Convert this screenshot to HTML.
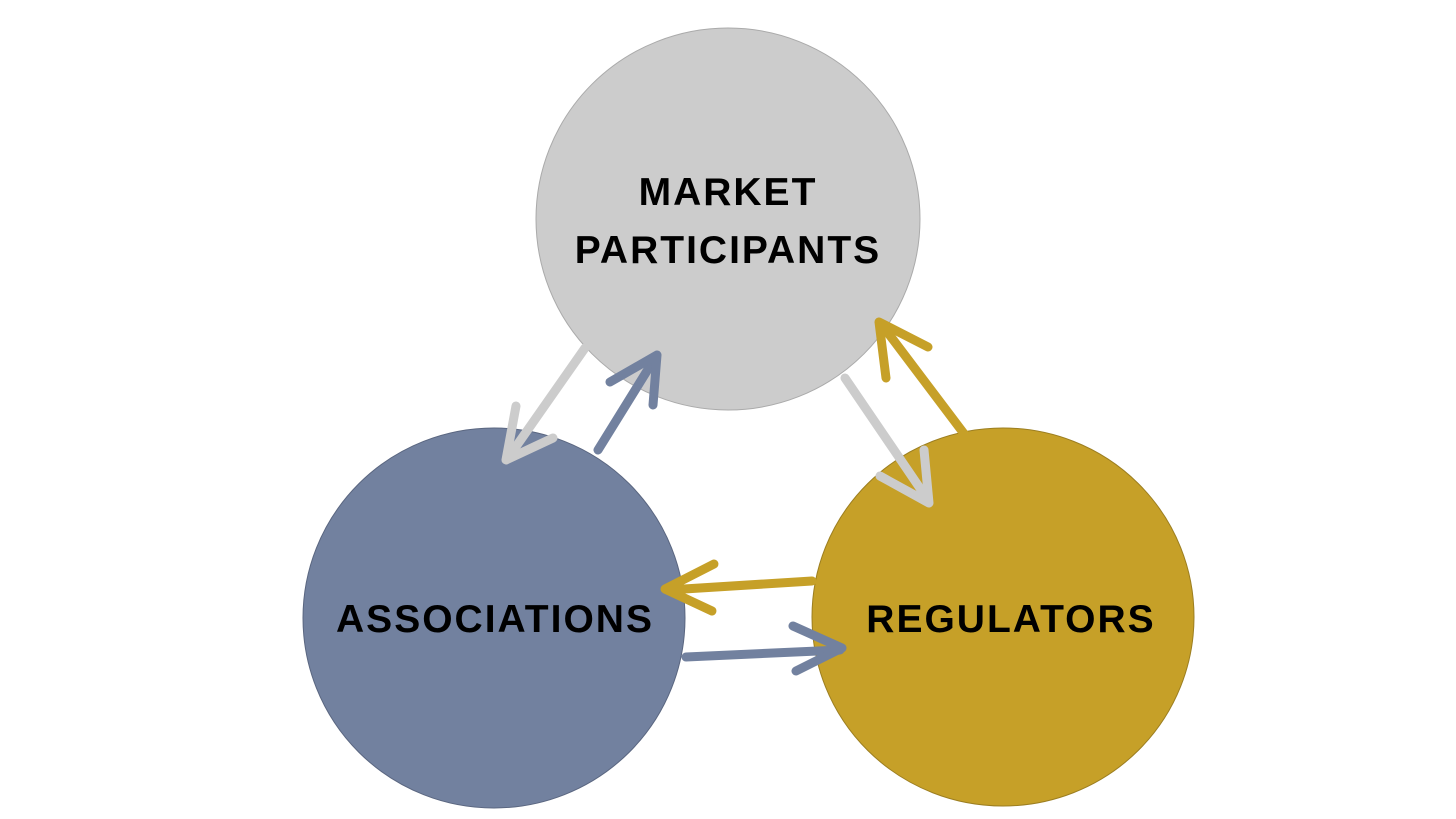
<!DOCTYPE html>
<html><head><meta charset="utf-8"><style>
html,body{margin:0;padding:0;background:#fff;}
svg{display:block}
text{font-family:"Liberation Sans",sans-serif;font-weight:bold;font-size:39px;fill:#000;text-anchor:middle;letter-spacing:2px}
</style></head><body>
<svg width="1456" height="819" viewBox="0 0 1456 819">
<ellipse cx="728" cy="219" rx="192" ry="191" fill="#cccccc" stroke="#aaa" stroke-width="1"/>
<ellipse cx="494" cy="618" rx="191" ry="190" fill="#72819f" stroke="#5a6680" stroke-width="1"/>
<ellipse cx="1003" cy="617" rx="191" ry="189" fill="#c6a028" stroke="#9c7e20" stroke-width="1"/>
<g fill="none" stroke-linecap="round" stroke-linejoin="round">
<!-- gray MP -> Assoc -->
<path d="M585 348 L508 458" stroke="#cccccc" stroke-width="9"/>
<path d="M516 406 L506 460 L553 438" stroke="#cccccc" stroke-width="9"/>
<!-- blue Assoc -> MP -->
<path d="M598 450 L655 358" stroke="#72819f" stroke-width="9"/>
<path d="M610 382 L657 355 L653 405" stroke="#72819f" stroke-width="9"/>
<!-- gold Reg -> MP -->
<path d="M965 435 L882 325" stroke="#c6a028" stroke-width="9"/>
<path d="M886 378 L879 322 L928 347" stroke="#c6a028" stroke-width="9"/>
<!-- gray MP -> Reg -->
<path d="M845 378 L928 500" stroke="#cccccc" stroke-width="9"/>
<path d="M880 476 L929 503 L924 450" stroke="#cccccc" stroke-width="9"/>
<!-- gold Reg -> Assoc -->
<path d="M812 581 L668 590" stroke="#c6a028" stroke-width="9"/>
<path d="M714 564 L665 589 L712 611" stroke="#c6a028" stroke-width="9"/>
<!-- blue Assoc -> Reg -->
<path d="M686 657 L840 650" stroke="#72819f" stroke-width="9"/>
<path d="M793 626 L842 648 L796 671" stroke="#72819f" stroke-width="9"/>
</g>
<text x="728" y="205">MARKET</text>
<text x="728" y="263">PARTICIPANTS</text>
<text x="495" y="632">ASSOCIATIONS</text>
<text x="1011" y="632">REGULATORS</text>
</svg>
</body></html>
